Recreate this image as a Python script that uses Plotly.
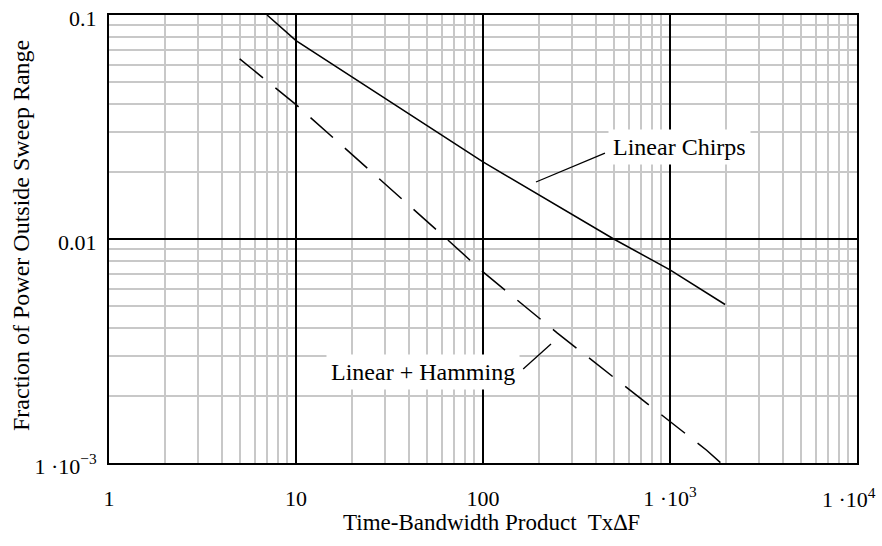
import plotly.graph_objects as go
import math

# ---- data ----
chirp_x = [7, 10, 100, 500, 1000, 1970]
chirp_y = [0.1, 0.0768, 0.0221, 0.01, 0.00728, 0.0051]

hamming_x = [5, 10, 64, 100, 250, 1000, 1570, 1870]
hamming_y = [0.0637, 0.0398, 0.01, 0.00713, 0.0038, 0.00154, 0.00114, 0.001]

x_tickvals = [1, 10, 100, 1000, 10000]
x_ticktext = ["1", "10", "100", "1 \u00b710<sup>3</sup>", "1 \u00b710<sup>4</sup>"]
y_tickvals = [0.001, 0.01, 0.1]
y_ticktext = ["1 \u00b710<sup>\u22123</sup>", "0.01", "0.1"]

# callouts: label text, label position, leader line ends (data units)
chirp_label = "Linear Chirps"
chirp_label_pos = (1130, 0.0258)
chirp_leader_x = [449, 192]
chirp_leader_y = [0.0242, 0.01797]

ham_label = "Linear + Hamming"
ham_label_pos = (47.8, 0.00255)
ham_leader_x = [164, 231]
ham_leader_y = [0.00263, 0.0034]

x_title = "Time-Bandwidth Product  Tx\u2206F"
y_title = "Fraction of Power Outside Sweep Range"

FONT = "Liberation Serif, Times New Roman, serif"
GRID_MINOR = "#c8c8c8"

x_minor = [m * 10 ** d for d in range(0, 4) for m in range(2, 10)]
y_minor = [m * 10 ** d for d in range(-3, -1) for m in range(2, 10)]

fig = go.Figure()

fig.add_trace(go.Scatter(x=chirp_x, y=chirp_y, mode="lines",
                         line=dict(color="black", width=1.5), showlegend=False))
fig.add_trace(go.Scatter(x=hamming_x, y=hamming_y, mode="lines",
                         line=dict(color="black", width=1.5, dash="30px,16px"),
                         showlegend=False))
fig.add_trace(go.Scatter(x=chirp_leader_x, y=chirp_leader_y, mode="lines",
                         line=dict(color="black", width=1.3), showlegend=False))
fig.add_trace(go.Scatter(x=ham_leader_x, y=ham_leader_y, mode="lines",
                         line=dict(color="black", width=1.3), showlegend=False))

for text, (lx, ly) in [(chirp_label, chirp_label_pos), (ham_label, ham_label_pos)]:
    fig.add_annotation(x=math.log10(lx), y=math.log10(ly), text=text,
                       showarrow=False, bgcolor="white", borderpad=4,
                       font=dict(family=FONT, size=24, color="black"))

# last x tick label placed as an annotation so it stays inside the window
fig.add_annotation(x=math.log10(x_tickvals[-1]), xref="x", y=0, yref="paper",
                   text=x_ticktext[-1], showarrow=False,
                   xanchor="right", xshift=21, yanchor="middle", yshift=-35,
                   font=dict(family=FONT, size=22, color="black"))
# axis titles
fig.add_annotation(x=0.5, xref="paper", y=0, yref="paper", text=x_title,
                   showarrow=False, xanchor="center", xshift=8,
                   yanchor="middle", yshift=-59,
                   font=dict(family=FONT, size=23, color="black"))
fig.add_annotation(x=0, xref="paper", y=0.5, yref="paper", text=y_title,
                   showarrow=False, textangle=-90, xanchor="center", xshift=-88,
                   yanchor="middle", yshift=3,
                   font=dict(family=FONT, size=24, color="black"))

shown_x_ticktext = x_ticktext[:-1] + [""]

fig.update_xaxes(type="log", range=[0, 4],
                 tickmode="array", tickvals=x_tickvals, ticktext=shown_x_ticktext,
                 showgrid=True, gridcolor="black", gridwidth=1.5,
                 showline=True, mirror=True, linecolor="black", linewidth=2,
                 ticks="", ticklabelstandoff=15, zeroline=False,
                 tickfont=dict(family=FONT, size=22, color="black"),
                 minor=dict(tickmode="array", tickvals=x_minor, showgrid=True,
                            gridcolor=GRID_MINOR, gridwidth=1.5, ticks=""))
fig.update_yaxes(type="log", range=[-3, -1],
                 tickmode="array", tickvals=y_tickvals, ticktext=y_ticktext,
                 showgrid=True, gridcolor="black", gridwidth=1.5,
                 showline=True, mirror=True, linecolor="black", linewidth=2,
                 ticks="", ticklabelstandoff=6, zeroline=False,
                 ticklabelshift=3,
                 ticklabeloverflow="allow",
                 tickfont=dict(family=FONT, size=22, color="black"),
                 minor=dict(tickmode="array", tickvals=y_minor, showgrid=True,
                            gridcolor=GRID_MINOR, gridwidth=1.5, ticks=""))

fig.update_layout(width=882, height=546,
                  margin=dict(l=109, r=25, t=15, b=83, autoexpand=False),
                  paper_bgcolor="white", plot_bgcolor="white")

fig.write_html("out.html", config={"displayModeBar": False},
               post_script="document.body.style.margin='0';")
